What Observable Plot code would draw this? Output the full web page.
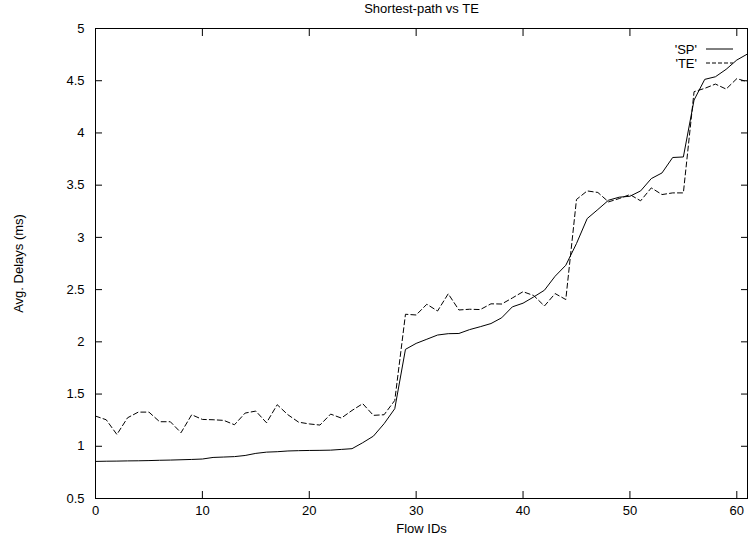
<!DOCTYPE html>
<html>
<head>
<meta charset="utf-8">
<script src="https://cdn.jsdelivr.net/npm/d3@7"></script>
<script src="https://cdn.jsdelivr.net/npm/@observablehq/plot@0.6"></script>
<style>
  html, body { margin: 0; padding: 0; background: #fff; }
  #wrap { position: relative; width: 748px; height: 537px; font-family: "Liberation Sans", Arial, sans-serif; }
  #legend { position: absolute; left: 647px; top: 42px; font-size: 13px; color: #000; }
  .row { position: absolute; height: 14px; display: flex; align-items: center; white-space: nowrap; }
  .row span { display: inline-block; width: 50px; text-align: right; margin-right: 9px; }
</style>
</head>
<body>
<div id="wrap"></div>
<script>
const flowIds = [0,1,2,3,4,5,6,7,8,9,10,11,12,13,14,15,16,17,18,19,20,21,22,23,24,25,26,27,28,29,30,31,32,33,34,35,36,37,38,39,40,41,42,43,44,45,46,47,48,49,50,51,52,53,54,55,56,57,58,59,60,61];
const spDelays = [0.855,0.857,0.858,0.860,0.861,0.863,0.866,0.868,0.871,0.874,0.878,0.893,0.897,0.901,0.912,0.932,0.944,0.948,0.955,0.958,0.960,0.961,0.963,0.970,0.977,1.034,1.097,1.216,1.360,1.928,1.985,2.025,2.065,2.078,2.080,2.117,2.145,2.175,2.230,2.335,2.370,2.430,2.494,2.628,2.733,2.941,3.180,3.267,3.356,3.385,3.394,3.445,3.563,3.617,3.765,3.770,4.315,4.513,4.538,4.609,4.698,4.756];
const teDelays = [1.289,1.254,1.113,1.273,1.327,1.327,1.235,1.235,1.130,1.302,1.257,1.254,1.248,1.206,1.318,1.337,1.225,1.398,1.302,1.231,1.214,1.203,1.308,1.270,1.343,1.408,1.296,1.302,1.439,2.264,2.257,2.360,2.295,2.460,2.305,2.312,2.309,2.364,2.362,2.420,2.480,2.443,2.343,2.462,2.405,3.363,3.445,3.430,3.340,3.372,3.410,3.350,3.474,3.410,3.426,3.426,4.395,4.427,4.468,4.420,4.520,4.490];
const xTicks = [0,10,20,30,40,50,60];
const yTicks = [0.5,1,1.5,2,2.5,3,3.5,4,4.5,5];
const seriesNames = ["'SP'", "'TE'"];
const titleText = "Shortest-path vs TE";
const xLabel = "Flow IDs";
const yLabel = "Avg. Delays (ms)";

const sp = flowIds.map((x, i) => ({x, y: spDelays[i]}));
const te = flowIds.map((x, i) => ({x, y: teDelays[i]}));

const fmt = d => String(d);

const chart = Plot.plot({
  width: 748,
  height: 537,
  marginLeft: 95,
  marginRight: 1,
  marginTop: 28,
  marginBottom: 39,
  style: {fontFamily: "Liberation Sans, Arial, sans-serif", fontSize: "13px", color: "#000", background: "#fff"},
  x: {domain: [0, 61]},
  y: {domain: [0.5, 5]},
  marks: [
    Plot.axisX({ticks: xTicks, tickSize: 0, tickPadding: 7, tickFormat: fmt, label: xLabel, labelAnchor: "center", labelArrow: "none", labelOffset: 34}),
    Plot.axisY({ticks: yTicks, tickSize: 0, tickPadding: 11, tickFormat: fmt, label: yLabel, labelAnchor: "center", labelArrow: "none", labelOffset: 82}),
    Plot.axisX({ticks: xTicks, anchor: "bottom", tickSize: -7, tickFormat: () => "", label: null}),
    Plot.axisX({ticks: xTicks, anchor: "top", tickSize: -7, tickFormat: () => "", label: null}),
    Plot.axisY({ticks: yTicks, anchor: "left", tickSize: -7, tickFormat: () => "", label: null}),
    Plot.axisY({ticks: yTicks, anchor: "right", tickSize: -7, tickFormat: () => "", label: null}),
    Plot.frame({stroke: "#000"}),
    Plot.line(sp, {x: "x", y: "y", stroke: "#000", strokeWidth: 1}),
    Plot.line(te, {x: "x", y: "y", stroke: "#000", strokeWidth: 1, strokeDasharray: "5,3"}),
    Plot.text([titleText], {frameAnchor: "top", dy: -25, lineAnchor: "top", fontSize: 13})
  ]
});
document.getElementById("wrap").appendChild(chart);

const legend = document.createElement("div");
legend.id = "legend";
seriesNames.forEach((name, i) => {
  const row = document.createElement("div");
  row.className = "row";
  row.style.top = (i * 14) + "px";
  row.innerHTML = `<span>${name}</span><svg width="28" height="4"><line x1="0" x2="27" y1="2" y2="2" stroke="#000" stroke-width="1" ${i === 1 ? 'stroke-dasharray="4,2"' : ''}/></svg>`;
  legend.appendChild(row);
});
document.getElementById("wrap").appendChild(legend);
</script>
</body>
</html>
